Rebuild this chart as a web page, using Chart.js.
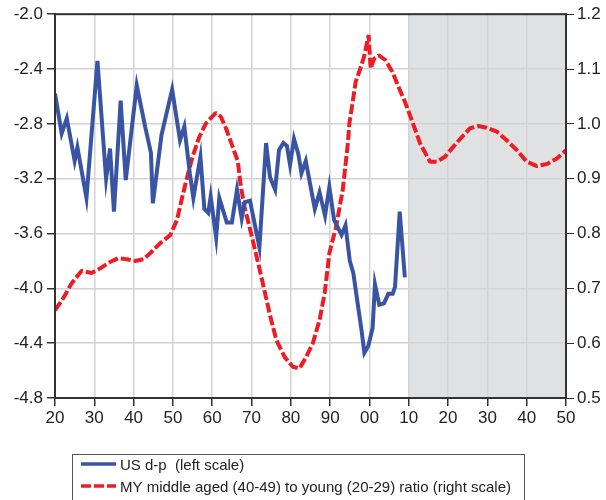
<!DOCTYPE html>
<html>
<head>
<meta charset="utf-8">
<script src="https://cdn.jsdelivr.net/npm/chart.js@4.4.0/dist/chart.umd.min.js"></script>
<style>
  body { margin: 0; background: #fff; }
</style>
</head>
<body>
<canvas id="myChart" width="606" height="500"></canvas>
<script>
// data
const dpYears = [1920, 1921.7, 1923, 1925, 1925.7, 1928, 1930.8, 1933, 1934, 1935, 1936.7, 1938,
  1940.8, 1943, 1944.4, 1944.9, 1947.1, 1949.8, 1951.8, 1952.9, 1954.3, 1955.2, 1957, 1958,
  1959, 1959.6, 1961, 1961.8, 1963.7, 1965, 1966.3, 1967.5, 1968.3, 1969.6, 1972, 1973.7,
  1974.7, 1976, 1977, 1978.1, 1979, 1979.8, 1980.8, 1981.9, 1982.7, 1983.8, 1985.3, 1986.1,
  1987.3, 1988.7, 1989.8, 1991, 1992.9, 1993.9, 1995, 1995.9, 1996.9, 1998, 1998.7, 1999.7,
  2000.8, 2001.4, 2002.5, 2003.7, 2004.8, 2005.9, 2006.5, 2007.7, 2009];
const dpValues = [-2.58, -2.87, -2.76, -3.07, -2.97, -3.34, -2.34, -3.20, -2.98, -3.44, -2.63, -3.21,
  -2.52, -2.83, -3.01, -3.38, -2.88, -2.55, -2.92, -2.82, -3.16, -3.34, -3.04, -3.42,
  -3.45, -3.33, -3.63, -3.34, -3.52, -3.52, -3.28, -3.49, -3.37, -3.36, -3.70, -2.94,
  -3.19, -3.28, -2.99, -2.94, -2.96, -3.10, -2.91, -3.02, -3.16, -3.07, -3.30, -3.42,
  -3.30, -3.47, -3.26, -3.50, -3.61, -3.54, -3.80, -3.89, -4.09, -4.31, -4.47, -4.42,
  -4.29, -3.97, -4.12, -4.11, -4.04, -4.04, -3.99, -3.44, -3.92];

const ratioYears = [1920, 1922.1, 1924.2, 1926.8, 1929.3, 1931.4, 1934, 1936.1, 1938.2, 1940.4,
  1942.5, 1944.2, 1946.7, 1949.3, 1951, 1952.2, 1953.4, 1955, 1956.7, 1958.4, 1960.9, 1962.2,
  1963.5, 1965.2, 1966.5, 1967.2, 1968.2, 1970.3, 1972.5, 1974.6, 1976.3, 1978.4, 1980.5,
  1982.2, 1983.9, 1985.6, 1987.3, 1988.6, 1989.8, 1991.5, 1993.2, 1994.5, 1994.9, 1995.8,
  1996.5, 1997.4, 1998.6, 1999.8, 2000.3, 2001.2, 2002.4, 2004.1, 2005.8, 2007.6, 2009.2,
  2010.9, 2012.9, 2015.4, 2017.1, 2019.2, 2021.3, 2023.5, 2025.6, 2027.7, 2029.8, 2032.4,
  2034.9, 2037.5, 2040, 2042.6, 2045.2, 2047.7, 2050];
const ratioValues = [0.660, 0.682, 0.709, 0.732, 0.728, 0.736, 0.748, 0.755, 0.753, 0.750,
  0.753, 0.764, 0.782, 0.797, 0.824, 0.861, 0.897, 0.940, 0.976, 1.001, 1.020, 1.013,
  0.992, 0.958, 0.932, 0.890, 0.849, 0.788, 0.721, 0.654, 0.606, 0.575, 0.557,
  0.554, 0.575, 0.600, 0.642, 0.691, 0.764, 0.812, 0.879, 0.964, 1.001, 1.043,
  1.077, 1.095, 1.122, 1.162, 1.101, 1.119, 1.125, 1.116, 1.095, 1.064, 1.037,
  1.004, 0.964, 0.931, 0.931, 0.940, 0.958, 0.976, 0.992, 0.996, 0.993, 0.986,
  0.970, 0.952, 0.931, 0.923, 0.927, 0.937, 0.952];

const xTickLabels = ["20", "30", "40", "50", "60", "70", "80", "90", "00", "10", "20", "30", "40", "50"];
const forecastRange = [2010, 2050];

const toPoints = (xs, ys) => xs.map((x, i) => ({ x: x, y: ys[i] }));

const tickFont = { family: "'Liberation Sans', Arial, sans-serif", size: 17 };
const gridColor = "#d3d3d3";
const frameColor = "#333";

// grey forecast area goes under the grid
const shadePlugin = {
  id: "shade",
  beforeDraw(chart) {
    const { ctx, chartArea, scales } = chart;
    const x0 = scales.x.getPixelForValue(forecastRange[0]);
    const x1 = scales.x.getPixelForValue(forecastRange[1]);
    ctx.save();
    ctx.fillStyle = "#e0e1e3";
    ctx.fillRect(x0, chartArea.top, x1 - x0, chartArea.bottom - chartArea.top);
    ctx.restore();
  },
  afterDraw(chart) {
    const { ctx, chartArea } = chart;
    ctx.save();
    ctx.strokeStyle = frameColor;
    ctx.lineWidth = 2;
    ctx.strokeRect(chartArea.left, chartArea.top, chartArea.right - chartArea.left, chartArea.bottom - chartArea.top);
    ctx.restore();
  },
};

// legend in a box under the chart
const legendBox = {
  id: "legendBox",
  afterDraw(chart) {
    const ctx = chart.ctx;
    ctx.save();
    ctx.strokeStyle = "#555";
    ctx.lineWidth = 1;
    ctx.strokeRect(72.5, 454.5, 452, 60);
    chart.data.datasets.forEach(function (ds, i) {
      const y = 464 + i * 22;
      ctx.beginPath();
      ctx.strokeStyle = ds.borderColor;
      ctx.lineWidth = 3.5;
      ctx.setLineDash(ds.borderDash || []);
      ctx.moveTo(81, y);
      ctx.lineTo(116, y);
      ctx.stroke();
      ctx.setLineDash([]);
      ctx.fillStyle = "#222";
      ctx.font = "15px 'Liberation Sans', Arial, sans-serif";
      ctx.textBaseline = "middle";
      ctx.fillText(ds.label, 120, y + 2);
    });
    ctx.restore();
  },
};

const config = {
  type: "line",
  data: {
    datasets: [
      {
        label: "US d-p  (left scale)",
        data: toPoints(dpYears, dpValues),
        yAxisID: "yLeft",
        borderColor: "#3a54a4",
        borderWidth: 4,
        borderJoinStyle: "miter",
        pointRadius: 0,
        tension: 0,
      },
      {
        label: "MY middle aged (40-49) to young (20-29) ratio (right scale)",
        data: toPoints(ratioYears, ratioValues),
        yAxisID: "yRight",
        borderColor: "#ee1d25",
        borderWidth: 4,
        borderDash: [10, 3],
        borderJoinStyle: "bevel",
        pointRadius: 0,
        tension: 0,
      },
    ],
  },
  options: {
    responsive: false,
    animation: false,
    layout: { padding: { top: 14, bottom: 72, left: 0, right: 0 } },
    plugins: { legend: { display: false }, tooltip: { enabled: false } },
    scales: {
      x: {
        type: "linear",
        min: 1920,
        max: 2050,
        afterFit: (s) => { s.height = 30; },
        ticks: {
          stepSize: 10,
          color: "#222",
          font: tickFont,
          padding: 2,
          maxRotation: 0,
          callback: (v, i) => xTickLabels[i],
        },
        grid: { color: gridColor, lineWidth: 1.5, tickColor: frameColor, tickLength: 8 },
        border: { color: frameColor, width: 2 },
      },
      yLeft: {
        position: "left",
        min: -4.8,
        max: -2.0,
        afterFit: (s) => { s.width = 55; },
        ticks: {
          stepSize: 0.4,
          color: "#222",
          font: tickFont,
          padding: 4,
          callback: (v) => v.toFixed(1),
        },
        grid: { color: gridColor, lineWidth: 1.5, tickColor: frameColor, tickLength: 8 },
        border: { color: frameColor, width: 2 },
      },
      yRight: {
        position: "right",
        min: 0.5,
        max: 1.2,
        afterFit: (s) => { s.width = 40; },
        ticks: {
          stepSize: 0.1,
          color: "#222",
          font: tickFont,
          padding: 3,
          callback: (v) => v.toFixed(1),
        },
        grid: { drawOnChartArea: false, tickColor: frameColor, tickLength: 8 },
        border: { color: frameColor, width: 2 },
      },
    },
  },
  plugins: [shadePlugin, legendBox],
};

new Chart(document.getElementById("myChart"), config);
</script>
</body>
</html>
